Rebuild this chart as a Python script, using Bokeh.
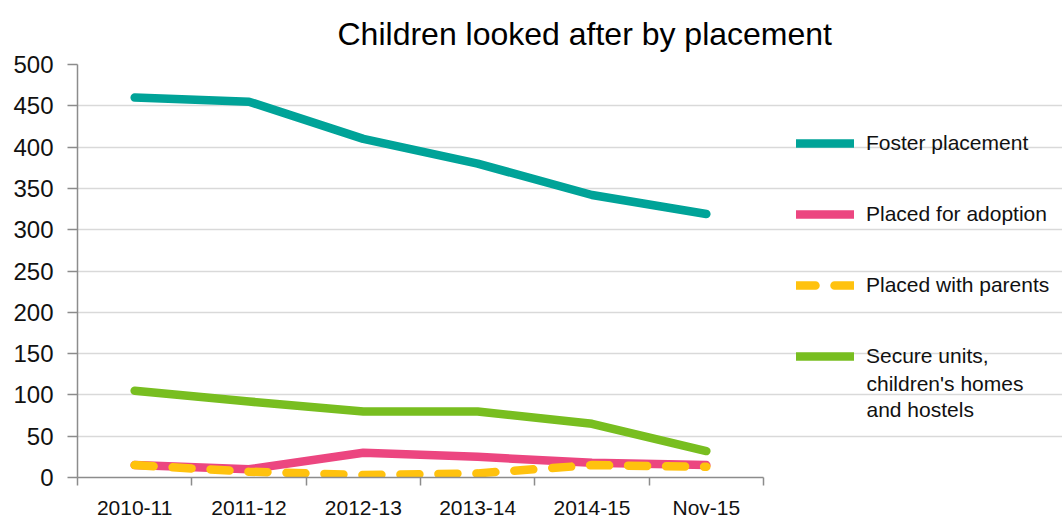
from bokeh.plotting import figure
from bokeh.models import FixedTicker, Legend, LegendItem, Range1d, Label
from bokeh.embed import file_html
from bokeh.resources import INLINE

categories = ["2010-11", "2011-12", "2012-13", "2013-14", "2014-15", "Nov-15"]
foster = [460, 455, 410, 380, 342, 319]
adoption = [15, 10, 30, 25, 18, 15]
parents = [15, 7, 3, 5, 15, 13]
secure = [105, 92, 80, 80, 65, 32]
y_ticks = list(range(0, 501, 50))

names = ["Foster placement", "Placed for adoption", "Placed with parents", "Secure units,"]
extra_lines = ["children's homes", "and hostels"]
colors = ["#00A398", "#EC4680", "#FFC20E", "#78BE20"]

FONT = "Liberation Sans"
W, H = 1062, 521
LEFT, TOP, BOTTOM = 77, 64, 43
PLOT_W = 686  # width of the plotting area that holds the categories
n = len(categories)
frame_w = W - LEFT
x_end = n * frame_w / PLOT_W
x = [i + 0.5 for i in range(n)]

p = figure(width=W, height=H, output_backend="svg", toolbar_location=None,
           x_range=Range1d(0, x_end), y_range=Range1d(0, 500),
           min_border_left=LEFT, min_border_right=0, min_border_top=TOP,
           min_border_bottom=BOTTOM)
p.outline_line_color = None
p.background_fill_color = "white"
p.border_fill_color = "white"

p.title.text = "Children looked after by placement"
p.title.text_font = FONT
p.title.text_font_size = "32px"
p.title.text_font_style = "normal"
p.title.text_color = "#000000"
p.title.align = "left"
p.title.offset = 260
p.title.standoff = 26

# axes
p.yaxis.ticker = FixedTicker(ticks=y_ticks)
p.yaxis.axis_line_color = "#8c8c8c"
p.yaxis.axis_line_width = 1.5
p.yaxis.major_tick_line_color = "#8c8c8c"
p.yaxis.major_tick_line_width = 1.5
p.yaxis.major_tick_out = 10
p.yaxis.major_tick_in = 0
p.yaxis.minor_tick_line_color = None
p.yaxis.major_label_standoff = 14
p.yaxis.major_label_text_font = FONT
p.yaxis.major_label_text_font_size = "24px"
p.yaxis.major_label_text_color = "#111111"
p.yaxis.axis_label_standoff = 0

p.xaxis.bounds = (0, n)
p.xaxis.ticker = FixedTicker(ticks=x, minor_ticks=list(range(n + 1)))
p.xaxis.major_label_overrides = {xx: c for xx, c in zip(x, categories)}
p.xaxis.axis_line_color = "#8c8c8c"
p.xaxis.axis_line_width = 1.5
p.xaxis.major_tick_line_color = None
p.xaxis.major_tick_out = 0
p.xaxis.major_tick_in = 0
p.xaxis.minor_tick_line_color = "#8c8c8c"
p.xaxis.minor_tick_line_width = 1.5
p.xaxis.minor_tick_out = 8
p.xaxis.minor_tick_in = 0
p.xaxis.major_label_standoff = 10
p.xaxis.axis_label_standoff = 0
p.xaxis.major_label_text_font = FONT
p.xaxis.major_label_text_font_size = "21px"
p.xaxis.major_label_text_color = "#111111"

p.xgrid.grid_line_color = None
p.ygrid.grid_line_color = "#d9d9d9"
p.ygrid.grid_line_width = 1.5
p.ygrid.bounds = (0, n)

series = [foster, adoption, parents, secure]
draw_order = [0, 3, 1, 2]
renderers = [None] * 4
for i in draw_order:
    vals, col, nm = series[i], colors[i], names[i]
    kw = dict(line_width=8.5, line_color=col, line_cap="round", line_join="round")
    if nm.startswith("Placed with"):
        kw["line_dash"] = "19 19"
    renderers[i] = p.line(x, vals, **kw)

legend = Legend(items=[LegendItem(label=nm, renderers=[r]) for nm, r in zip(names, renderers)],
                location=(719, 109))
legend.border_line_color = None
legend.background_fill_alpha = 0
legend.glyph_width = 58
legend.glyph_height = 24
legend.label_height = 24
legend.label_standoff = 12
legend.label_text_font = FONT
legend.label_text_font_size = "21px"
legend.label_text_color = "#111111"
legend.spacing = 47
legend.padding = 0
legend.margin = 0
p.add_layout(legend, "center")

# continuation lines of the last legend label
def px_to_x(px):
    return (px - LEFT) * n / PLOT_W

def py_to_y(py):
    return (H - BOTTOM - py) * 500 / (H - BOTTOM - TOP)

for txt, py in zip(extra_lines, [384, 410]):
    p.add_layout(Label(x=px_to_x(866), y=py_to_y(py), text=txt, text_font=FONT,
                       text_font_size="21px", text_color="#111111",
                       text_baseline="middle", text_align="left"))

open("out.html", "w").write(file_html(p, INLINE))
